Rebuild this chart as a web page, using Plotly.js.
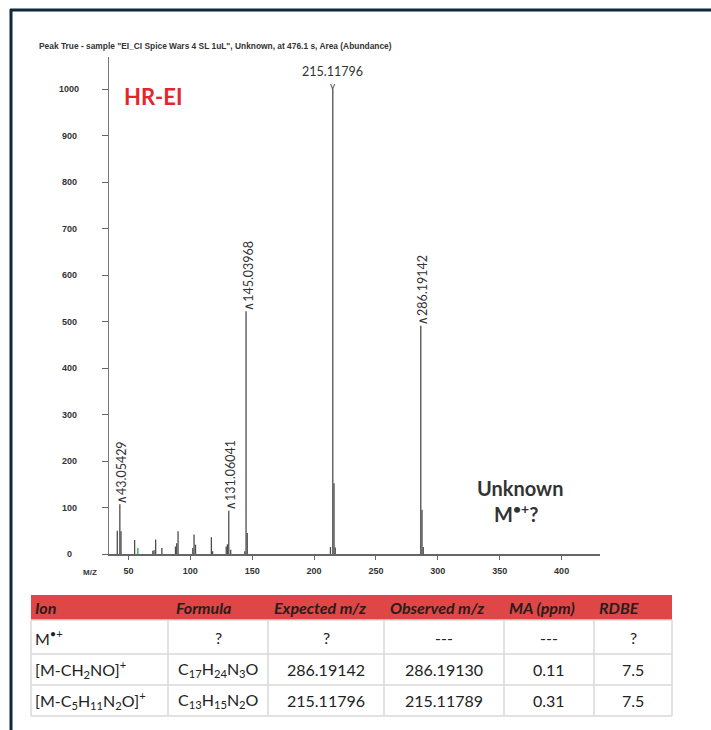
<!DOCTYPE html>
<html>
<head>
<meta charset="utf-8">
<script src="https://cdn.plot.ly/plotly-3.0.1.min.js"></script>
<style>
html,body{margin:0;padding:0;background:#fff;}
#chart{width:711px;height:730px;}
</style>
</head>
<body>
<div id="chart"></div>
<script>
// ---- spectrum data (m/z, abundance) ----
const peakMz = [41.0, 43.05429, 44.0, 55.0, 69.7, 70.7, 72.0, 77.0, 88.0, 89.0, 90.1,
  102.0, 103.0, 104.2, 117.0, 118.0, 129.0, 130.0, 131.06041, 132.6, 144.0, 145.03968, 146.0,
  213.2, 215.11796, 216.1, 217.1, 286.19142, 287.2, 288.2];
const peakHeight = [50, 107, 49, 30, 7, 8, 31, 13, 16, 23, 49,
  13, 42, 20, 36, 6, 16, 21, 93, 9, 6, 522, 45,
  15, 1000, 152, 14, 491, 95, 15];
const greenMz = [57.6];
const greenHeight = [13];

// labelled peaks
const labelMz = [43.05429, 131.06041, 145.03968, 286.19142];
const labelHeight = [107, 93, 522, 491];
const labelText = ['43.05429', '131.06041', '145.03968', '286.19142'];
const basePeakMz = [215.11796];
const basePeakHeight = [1000];
const basePeakText = ['215.11796'];

// axis ticks
const xTickVals = [50, 100, 150, 200, 250, 300, 350, 400];
const yTickVals = [0, 100, 200, 300, 400, 500, 600, 700, 800, 900, 1000];

// ---- table data ----
const tableHeader = ['Ion', 'Formula', 'Expected m/z', 'Observed m/z', 'MA (ppm)', 'RDBE'];
const colIon = ['M<sup>•+</sup>', '[M-CH<sub>2</sub>NO]<sup>+</sup>', '[M-C<sub>5</sub>H<sub>11</sub>N<sub>2</sub>O]<sup>+</sup>'];
const colFormula = ['?', 'C<sub>17</sub>H<sub>24</sub>N<sub>3</sub>O', 'C<sub>13</sub>H<sub>15</sub>N<sub>2</sub>O'];
const colExpected = ['?', '286.19142', '215.11796'];
const colObserved = ['---', '286.19130', '215.11789'];
const colMA = ['---', '0.11', '0.31'];
const colRDBE = ['?', '7.5', '7.5'];

const titleText = 'Peak True - sample "EI_CI Spice Wars 4 SL 1uL", Unknown, at 476.1 s, Area (Abundance)';

function sticks(mz, h) {
  const x = [], y = [];
  mz.forEach((m, i) => { x.push(m, m, null); y.push(0, h[i], null); });
  return {x, y};
}

const W = 711, H = 730;
const px = v => v / W;
const py = v => 1 - v / H;

const main = sticks(peakMz, peakHeight);
const green = sticks(greenMz, greenHeight);

const traces = [
  {type: 'scatter', mode: 'lines', x: main.x, y: main.y, line: {color: '#4d4d4d', width: 1.3},
   hoverinfo: 'skip', showlegend: false},
  {type: 'scatter', mode: 'lines', x: green.x, y: green.y, line: {color: '#1fae4a', width: 1.3},
   hoverinfo: 'skip', showlegend: false}
];

const tickFont = {family: 'Liberation Sans, Arial, sans-serif', size: 9, color: '#333', weight: 'bold'};

const annotations = [
  {xref: 'paper', yref: 'paper', x: px(37), y: py(46), xanchor: 'left', yanchor: 'middle',
   text: titleText, showarrow: false,
   font: {family: 'Liberation Sans, Arial, sans-serif', size: 8.4, color: '#333', weight: 'bold'}},
  {xref: 'paper', yref: 'paper', x: px(122), y: py(97), xanchor: 'left', yanchor: 'middle',
   text: 'HR-EI', showarrow: false,
   font: {family: 'Lato, sans-serif', size: 22, color: '#e8232b', weight: 'bold'}},
  {xref: 'paper', yref: 'paper', x: px(520), y: py(488), xanchor: 'center', yanchor: 'middle',
   text: 'Unknown', showarrow: false,
   font: {family: 'Lato, sans-serif', size: 20, color: '#333', weight: 'bold'}},
  {xref: 'paper', yref: 'paper', x: px(516), y: py(513), xanchor: 'center', yanchor: 'middle',
   text: 'M<sup>•+</sup>?', showarrow: false,
   font: {family: 'Lato, sans-serif', size: 20, color: '#333', weight: 'bold'}},
  {xref: 'paper', yref: 'paper', x: px(90), y: py(572), xanchor: 'center', yanchor: 'middle',
   text: 'M/Z', showarrow: false,
   font: {family: 'Liberation Sans, Arial, sans-serif', size: 8, color: '#333', weight: 'bold'}}
];

// y tick labels (centred, as in the reference)
yTickVals.forEach(v => {
  annotations.push({xref: 'paper', yref: 'y', x: px(69), y: v, xanchor: 'center', yanchor: 'middle',
    text: String(v), showarrow: false, font: tickFont});
});

labelMz.forEach((m, i) => {
  annotations.push({
    xref: 'x', yref: 'y', x: m, y: labelHeight[i], xanchor: 'center', yanchor: 'bottom',
    textangle: -90, showarrow: false, borderpad: 0, xshift: 2, yshift: -1,
    text: '<span style="font-family:DejaVu Sans;font-size:13px">∧</span>' + labelText[i],
    font: {family: 'Lato, sans-serif', size: 12.5, color: '#333'}
  });
});
basePeakMz.forEach((m, i) => {
  annotations.push({
    xref: 'x', yref: 'y', x: m, y: basePeakHeight[i], xanchor: 'center', yanchor: 'bottom',
    showarrow: false, borderpad: 0, yshift: 9,
    text: basePeakText[i],
    font: {family: 'Lato, sans-serif', size: 12.5, color: '#333'}
  });
  annotations.push({
    xref: 'x', yref: 'y', x: m, y: basePeakHeight[i], xanchor: 'center', yanchor: 'bottom',
    showarrow: false, borderpad: 0, yshift: -3,
    text: 'v',
    font: {family: 'Lato, sans-serif', size: 10, color: '#333'}
  });
});

// ---- table drawn with shapes + annotations ----
const colEdges = [31, 168, 268, 384, 504, 594, 672];
const rowEdges = [595, 620, 654, 685, 716];
const headerPad = [2, 6, 4, 4, 3, 3];
const columns = [colIon, colFormula, colExpected, colObserved, colMA, colRDBE];
const colAlign = ['left', 'center', 'center', 'center', 'center', 'center'];

const shapes = [
  {type: 'line', xref: 'paper', yref: 'paper', x0: px(10), x1: 1, y0: py(10), y1: py(10),
   line: {color: '#0f283b', width: 3}},
  {type: 'line', xref: 'paper', yref: 'paper', x0: px(11), x1: px(11), y0: py(9), y1: 0,
   line: {color: '#0f283b', width: 3}},
  {type: 'rect', xref: 'paper', yref: 'paper', x0: px(colEdges[0]), x1: px(colEdges[6]),
   y0: py(rowEdges[0]), y1: py(rowEdges[1]), fillcolor: '#df4646', line: {width: 0}, layer: 'below'}
];
for (let r = 1; r < rowEdges.length; r++) {
  shapes.push({type: 'line', xref: 'paper', yref: 'paper', x0: px(colEdges[0]), x1: px(colEdges[6]),
    y0: py(rowEdges[r]), y1: py(rowEdges[r]), line: {color: '#d9d9d9', width: 1.5}});
}
colEdges.forEach(c => {
  shapes.push({type: 'line', xref: 'paper', yref: 'paper', x0: px(c), x1: px(c),
    y0: py(rowEdges[1]), y1: py(rowEdges[rowEdges.length - 1]), line: {color: '#d9d9d9', width: 1.5}});
});

tableHeader.forEach((h, i) => {
  annotations.push({xref: 'paper', yref: 'paper', x: px(colEdges[i] + headerPad[i]), y: py(607.5),
    xanchor: 'left', yanchor: 'middle', showarrow: false,
    text: '<b><i>' + h + '</i></b>',
    font: {family: 'Lato, sans-serif', size: 16, color: '#2a1c1c'}});
});
columns.forEach((col, c) => {
  col.forEach((v, r) => {
    const yc = (rowEdges[r + 1] + rowEdges[r + 2]) / 2;
    const left = colAlign[c] === 'left';
    annotations.push({xref: 'paper', yref: 'paper',
      x: left ? px(colEdges[c] + 2) : px((colEdges[c] + colEdges[c + 1]) / 2),
      y: py(yc), xanchor: left ? 'left' : 'center', yanchor: 'middle', showarrow: false,
      text: v, font: {family: 'Lato, sans-serif', size: 16, color: '#222'}});
  });
});

const layout = {
  width: W, height: H,
  margin: {l: 0, r: 0, t: 0, b: 0},
  paper_bgcolor: '#ffffff', plot_bgcolor: '#ffffff',
  showlegend: false,
  xaxis: {
    domain: [px(109), px(600)], range: [34.3, 431],
    tickvals: xTickVals, ticktext: xTickVals.map(String),
    ticks: 'outside', ticklen: 4, tickwidth: 1, tickcolor: '#666',
    showline: true, linecolor: '#666', linewidth: 1.5,
    showgrid: false, zeroline: false, ticklabelstandoff: 4,
    tickfont: tickFont
  },
  yaxis: {
    domain: [py(554), py(57)], range: [0, 1069],
    tickvals: yTickVals, showticklabels: false,
    ticks: 'outside', ticklen: 6, tickwidth: 1, tickcolor: '#666',
    showline: true, linecolor: '#777', linewidth: 1.5,
    showgrid: false, zeroline: false
  },
  shapes: shapes,
  annotations: annotations
};

Plotly.newPlot('chart', traces, layout, {displayModeBar: false, staticPlot: true});
</script>
</body>
</html>
